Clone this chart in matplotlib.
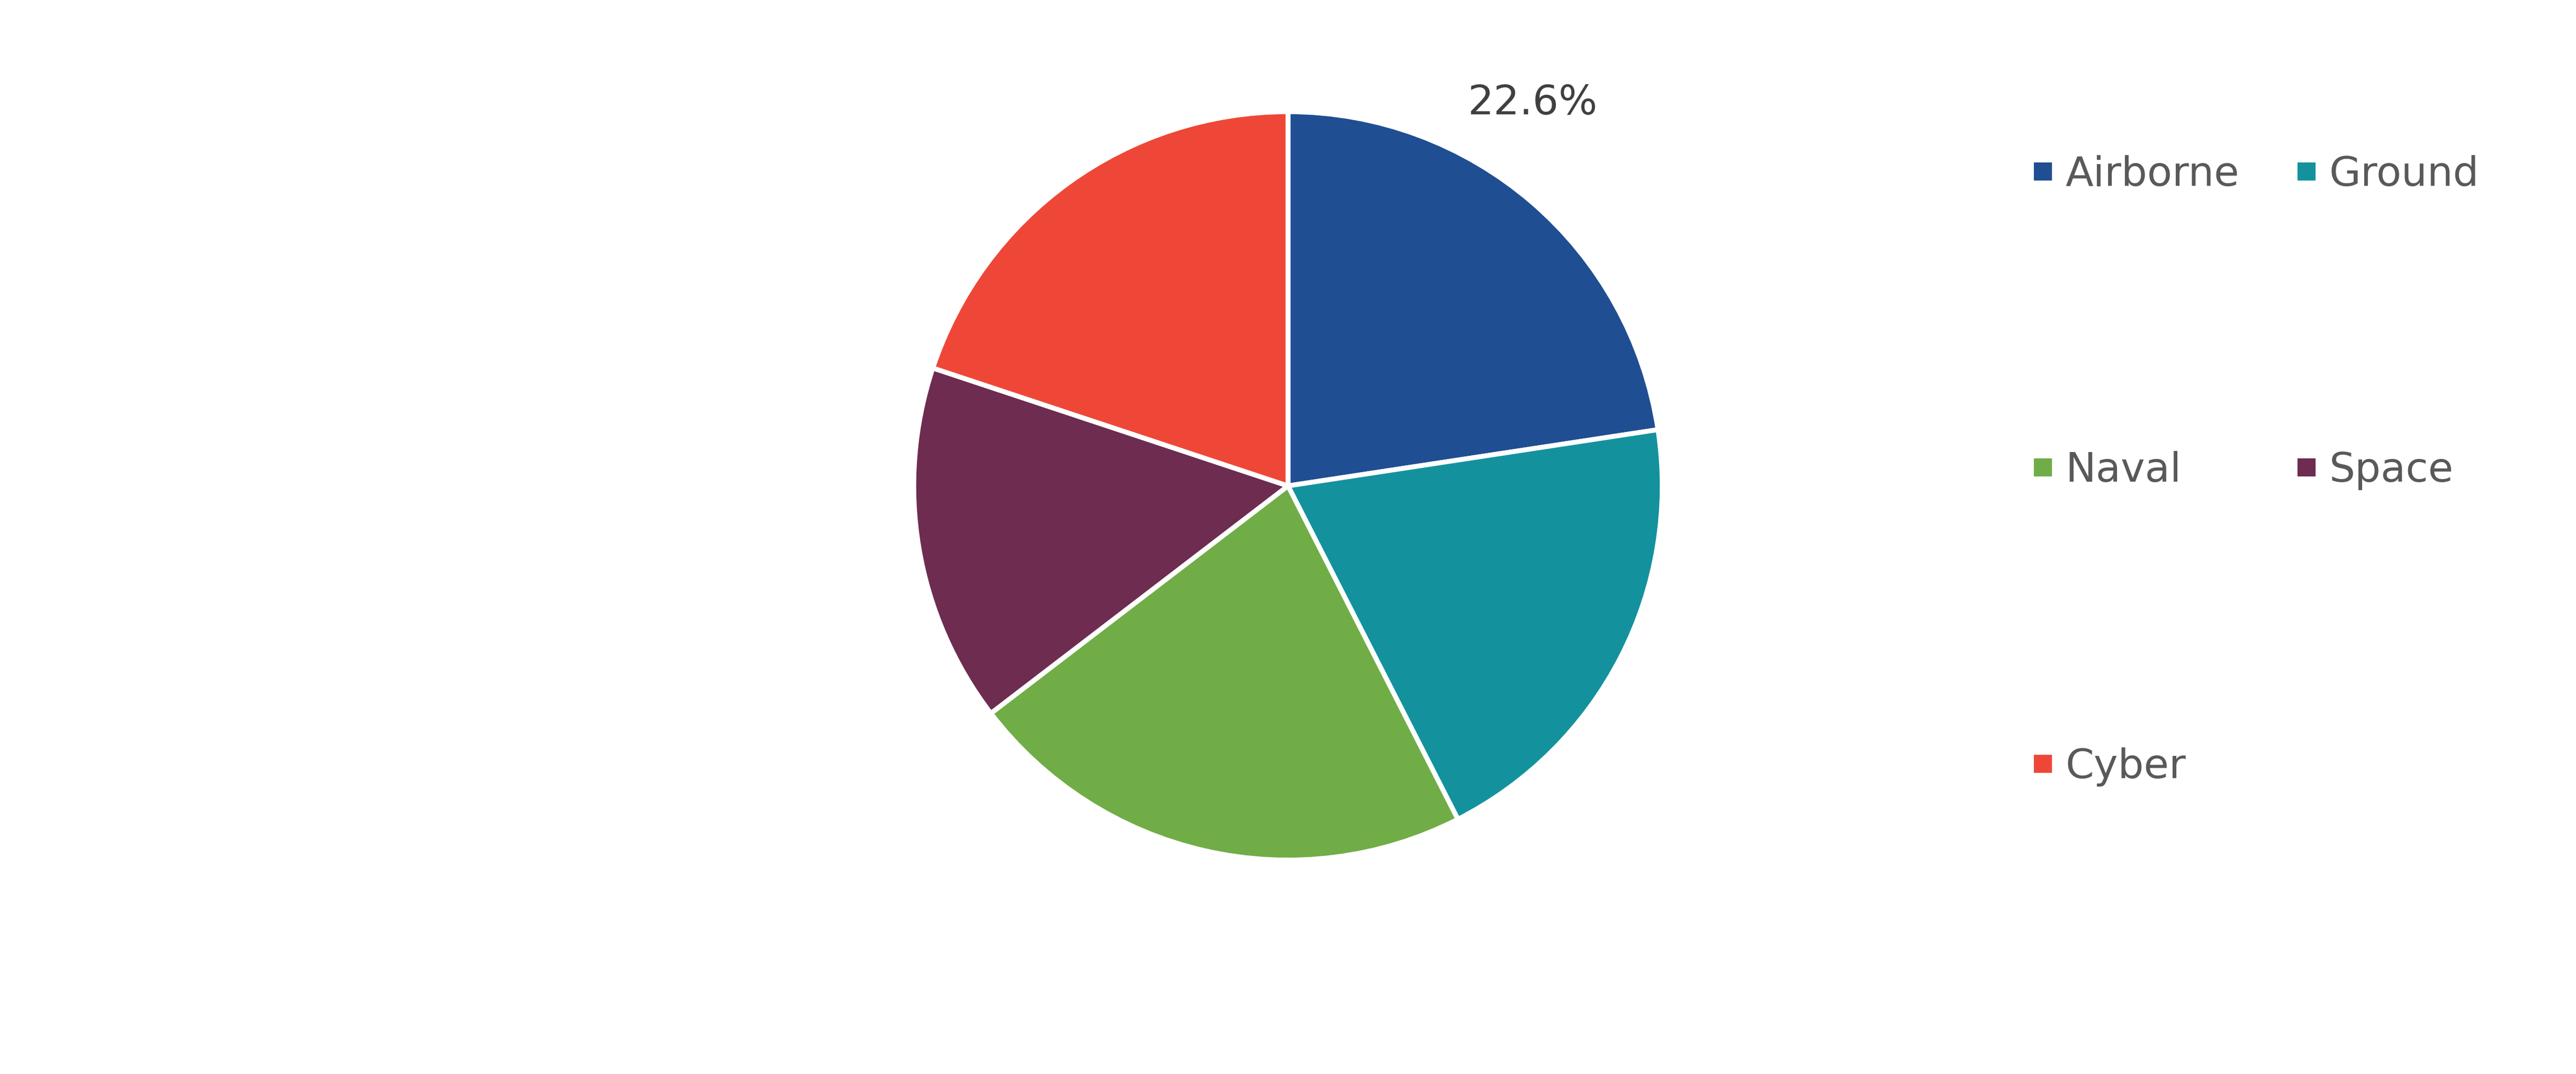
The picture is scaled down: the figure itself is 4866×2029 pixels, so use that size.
import matplotlib
matplotlib.use("Agg")
import matplotlib.pyplot as plt
from matplotlib.lines import Line2D

categories = ["Airborne", "Ground", "Naval", "Space", "Cyber"]
shares = [22.6, 19.9, 22.1, 15.5, 19.9]
colors = ["#1F4E92", "#13929E", "#70AD47", "#6D2C50", "#EF4737"]
shown_label = "22.6%"

plt.rcParams['font.family'] = ['DejaVu Sans']

fig = plt.figure(figsize=(4866 / 300, 2029 / 300), dpi=300)
ax = fig.add_axes([0.5 - 0.1453, 0.5476 - 0.3484, 0.2906, 0.6968])

wedges, _ = ax.pie(shares, colors=colors, startangle=90, counterclock=False,
                   radius=1.0,
                   wedgeprops=dict(edgecolor="white", linewidth=2.2))
ax.set_xlim(-1, 1)
ax.set_ylim(-1, 1)
ax.set_aspect("equal")
ax.axis("off")

# only the first slice carries a value label
ax.text(0.653, 1.023, shown_label, ha="center", va="center",
        fontsize=18.5, color="#404040")

# legend is filled column by column, so reorder to read row by row
order = [0, 2, 4, 1, 3]
handles = [Line2D([], [], marker="s", linestyle="none", markersize=7,
                  markerfacecolor=colors[i], markeredgecolor=colors[i])
           for i in order]
labels = [categories[i] for i in order]
fig.legend(handles, labels, loc="upper left", ncol=2,
           bbox_to_anchor=(0.774, 0.89), frameon=False,
           fontsize=18.5, labelcolor="#595959", labelspacing=6.3,
           handlelength=0.6, handletextpad=0.25, columnspacing=1.35)

fig.savefig("out.png", dpi=300)
